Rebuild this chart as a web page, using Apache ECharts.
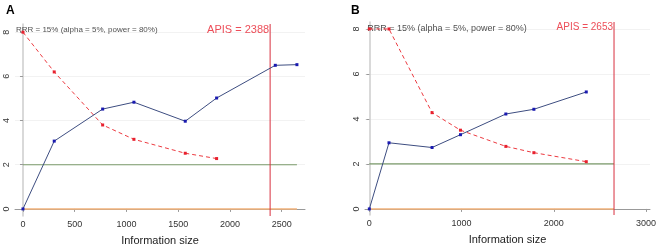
<!DOCTYPE html>
<html>
<head>
<meta charset="utf-8">
<script src="https://cdn.jsdelivr.net/npm/echarts@6/dist/echarts.min.js"></script>
<style>
  html, body { margin: 0; padding: 0; background: #fff; }
  #chart { width: 661px; height: 252px; }
</style>
</head>
<body>
<div id="chart"></div>
<script>
// panel A
var infoA = [0, 302, 770, 1072, 1568, 1871, 2438, 2647];
var zA = [0, 3.07, 4.52, 4.83, 3.97, 5.02, 6.5, 6.53];
var boundA = [8.0, 6.2, 3.8, 3.15, 2.52, 2.28];
var apisA = 2388;
var endA = 2647;

// panel B
var infoB = [0, 213, 680, 988, 1480, 1784, 2352];
var zB = [0, 2.94, 2.73, 3.3, 4.22, 4.43, 5.2];
var boundB = [8.0, 8.0, 4.28, 3.5, 2.78, 2.5, 2.1];
var apisB = 2653;
var endB = 2653;

var ticksA = [0, 500, 1000, 1500, 2000, 2500];
var ticksB = [0, 1000, 2000, 3000];
var yTicks = [0, 2, 4, 6, 8];

function pairs(xs, ys) {
    var res = [];
    for (var i = 0; i < ys.length; i++) res.push([xs[i], ys[i]]);
    return res;
}

var chart = echarts.init(document.getElementById('chart'));

function xAxisOf(idx, min, max, ticks) {
    return {
        gridIndex: idx, type: 'value', min: min, max: max,
        name: 'Information size', nameLocation: 'middle', nameGap: 19,
        nameTextStyle: { fontSize: 11, color: '#222', fontFamily: 'Liberation Sans' },
        axisLine: { lineStyle: { color: '#999', width: 1 } },
        axisTick: { show: true, length: 3, customValues: ticks, lineStyle: { color: '#999' } },
        axisLabel: { customValues: ticks, fontSize: 9, color: '#333', margin: 4, fontFamily: 'Liberation Sans',
                     formatter: function (v) { return String(v); } },
        splitLine: { show: false }
    };
}
function yAxisOf(idx, min, max) {
    return {
        gridIndex: idx, type: 'value', min: min, max: max,
        axisLine: { show: true, lineStyle: { color: '#ccc', width: 1.5 } },
        axisTick: { show: true, length: 3, customValues: yTicks, lineStyle: { color: '#999' } },
        axisLabel: { customValues: yTicks, rotate: 90, fontSize: 9, color: '#333', margin: 4, fontFamily: 'Liberation Sans' },
        splitLine: { show: true, lineStyle: { color: '#f2f2f2', width: 1 } }
    };
}

function panelSeries(idx, xs, z, bound, apis, end, ymin, ymax) {
    return [
        {
            type: 'line', xAxisIndex: idx, yAxisIndex: idx, silent: true,
            data: [[0, 0], [end, 0]], symbol: 'none',
            lineStyle: { color: '#f2b27a', width: 1.5 }
        },
        {
            type: 'line', xAxisIndex: idx, yAxisIndex: idx, silent: true,
            data: [[0, 2], [end, 2]], symbol: 'none',
            lineStyle: { color: '#7a9a6a', width: 1.2 }
        },
        {
            type: 'line', xAxisIndex: idx, yAxisIndex: idx, silent: true,
            data: [[apis, ymin], [apis, ymax]], symbol: 'none',
            lineStyle: { color: '#d8303f', width: 1 }
        },
        {
            type: 'line', xAxisIndex: idx, yAxisIndex: idx,
            data: pairs(xs, bound), symbol: 'rect', symbolSize: 3,
            itemStyle: { color: '#e8202e' },
            lineStyle: { color: '#ec3a40', width: 1, type: [4, 3] }
        },
        {
            type: 'line', xAxisIndex: idx, yAxisIndex: idx,
            data: pairs(xs, z), symbol: 'rect', symbolSize: 3,
            itemStyle: { color: '#1a1ab0' },
            lineStyle: { color: '#3d4d80', width: 1 }
        },
        {
            type: 'scatter', xAxisIndex: idx, yAxisIndex: idx, silent: true,
            data: [[apis, ymax - 0.25]], symbolSize: 0,
            label: { show: true, position: 'left', distance: 1, formatter: 'APIS = ' + apis,
                     color: '#e8202e', fontSize: idx === 0 ? 11 : 10, fontFamily: 'Liberation Sans' }
        },
        {
            type: 'scatter', xAxisIndex: idx, yAxisIndex: idx, silent: true,
            data: [[0, idx === 0 ? 8.12 : 8.0]], symbolSize: 0,
            label: { show: true, position: 'right', distance: idx === 0 ? -7 : -2,
                     formatter: 'RRR = 15% (alpha = 5%, power = 80%)',
                     color: '#222', fontSize: idx === 0 ? 8 : 9, fontFamily: 'Liberation Sans' }
        }
    ];
}

var option = {
    animation: false,
    title: [
        { text: 'A', left: 1, top: 0, textStyle: { fontSize: 12, fontWeight: 'bold', color: '#000', fontFamily: 'Liberation Sans' } },
        { text: 'B', left: 346, top: 0, textStyle: { fontSize: 12, fontWeight: 'bold', color: '#000', fontFamily: 'Liberation Sans' } }
    ],
    grid: [
        { left: 15, top: 24, width: 290, height: 192 },
        { left: 365, top: 22, width: 285, height: 193 }
    ],
    xAxis: [xAxisOf(0, -77, 2725, ticksA), xAxisOf(1, -47, 3043, ticksB)],
    yAxis: [yAxisOf(0, -0.32, 8.37), yAxisOf(1, -0.27, 8.31)],
    series: panelSeries(0, infoA, zA, boundA, apisA, endA, -0.32, 8.37)
        .concat(panelSeries(1, infoB, zB, boundB, apisB, endB, -0.27, 8.31))
};

chart.setOption(option);
</script>
</body>
</html>
